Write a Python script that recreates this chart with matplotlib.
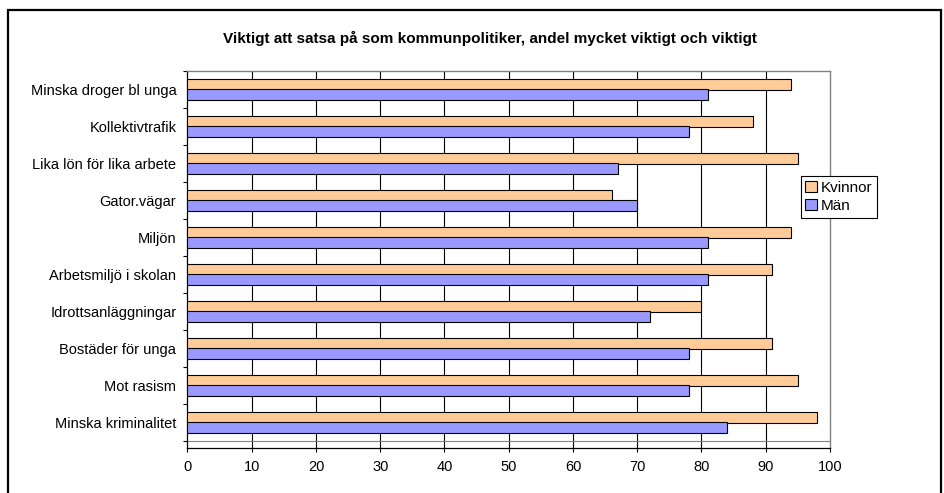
#! /usr/bin/env python3

import matplotlib
matplotlib.use("Agg")
import matplotlib.pyplot as plt
from matplotlib.patches import Rectangle
import numpy as np

plt.rcParams['font.family'] = ['Liberation Sans', 'DejaVu Sans']

# data, listed bottom to top as drawn
categories = ['Minska kriminalitet', 'Mot rasism', 'Bostäder för unga',
              'Idrottsanläggningar', 'Arbetsmiljö i skolan', 'Miljön',
              'Gator.vägar', 'Lika lön för lika arbete', 'Kollektivtrafik',
              'Minska droger bl unga']
kvinnor = [98, 95, 91, 80, 91, 94, 66, 95, 88, 94]
man = [84, 78, 78, 72, 81, 81, 70, 67, 78, 81]
xticks = [0, 10, 20, 30, 40, 50, 60, 70, 80, 90, 100]

fig = plt.figure(figsize=(9.44, 4.93), dpi=100)
ax = fig.add_axes([0.1986, 0.0913, 0.6806, 0.7647])

y = np.arange(len(categories))
h = 0.285
ax.barh(y + 0.14, kvinnor, height=h, color='#FFCC99', edgecolor='black',
        linewidth=0.8, label='Kvinnor', zorder=3)
ax.barh(y - 0.14, man, height=h, color='#9999FF', edgecolor='black',
        linewidth=0.8, label='Män', zorder=3)

ax.set_xlim(0, 100)
ax.set_ylim(-0.5 - 0.19, len(categories) - 0.5)

# vertical grid lines
for v in xticks[1:-1]:
    ax.axvline(v, color='black', linewidth=0.8, zorder=1)
# bottom of plot area
ax.axhline(-0.5, color='#808080', linewidth=0.8, zorder=2)

ax.set_xticks(xticks)
ax.set_xticklabels([str(v) for v in xticks], fontsize=10.5)
ax.tick_params(axis='x', direction='out', length=3, width=0.8, pad=6)

ax.set_yticks(y)
ax.set_yticklabels(categories, fontsize=10.5)
ax.set_yticks(np.arange(len(categories) + 1) - 0.5, minor=True)
ax.tick_params(axis='y', which='major', length=0, pad=8)
ax.tick_params(axis='y', which='minor', direction='out', length=3, width=0.8)

for s in ['top', 'right']:
    ax.spines[s].set_color('#808080')
    ax.spines[s].set_linewidth(1.0)
for s in ['left', 'bottom']:
    ax.spines[s].set_color('black')
    ax.spines[s].set_linewidth(0.9)

fig.text(0.519, 0.922, 'Viktigt att satsa på som kommunpolitiker, andel mycket viktigt och viktigt',
         ha='center', va='center', fontsize=11, fontweight='bold')

leg = fig.legend(loc='upper left', bbox_to_anchor=(0.848, 0.643),
                 bbox_transform=fig.transFigure, borderaxespad=0,
                 fontsize=11, fancybox=False, framealpha=1,
                 handlelength=0.75, handleheight=0.75, handletextpad=0.25,
                 borderpad=0.3, labelspacing=0.3)
leg.get_frame().set_edgecolor('black')
leg.get_frame().set_linewidth(0.8)

# outer chart border
fig.patches.append(Rectangle((8.3 / 944, -0.1), (941 - 8.3) / 944, 1.079,
                             transform=fig.transFigure, fill=False,
                             edgecolor='black', linewidth=1.6))

plt.savefig('out.png', dpi=100)
